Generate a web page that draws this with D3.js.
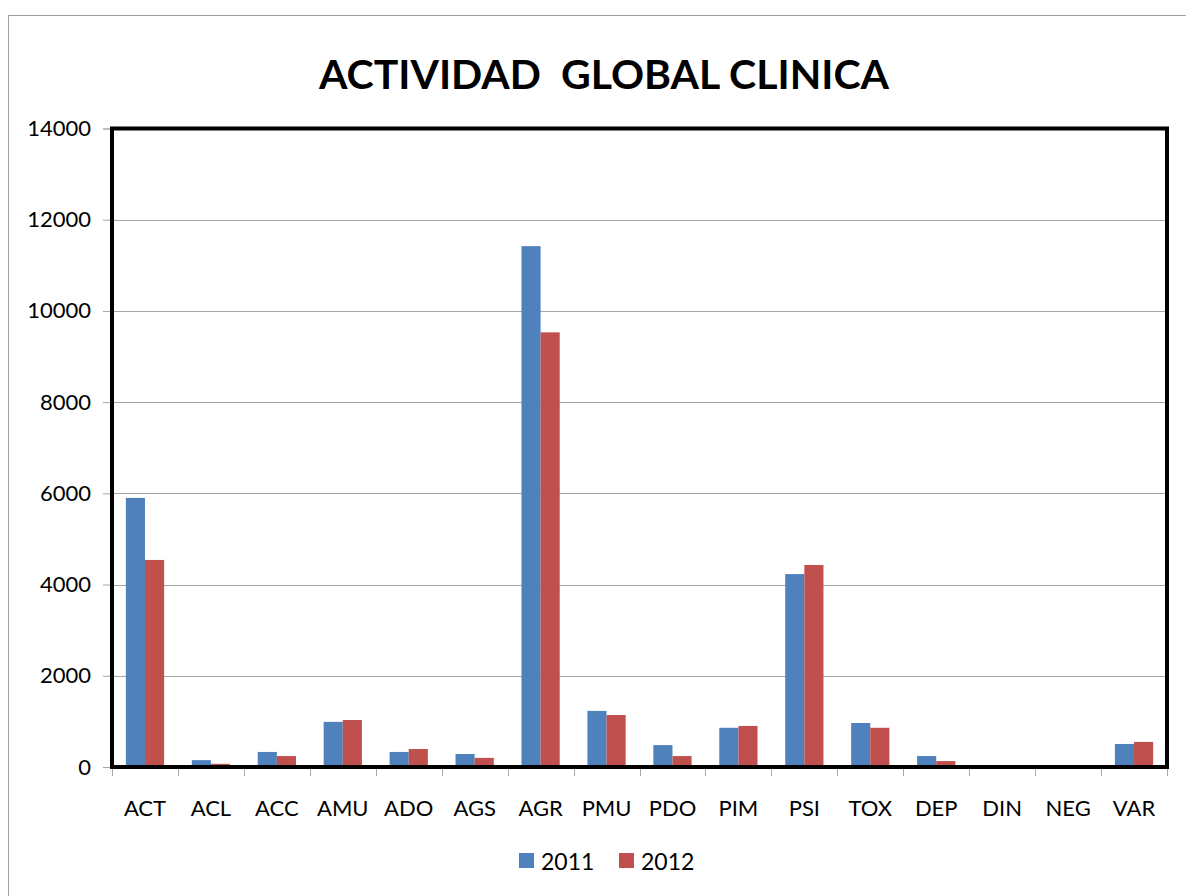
<!DOCTYPE html>
<html><head><meta charset="utf-8">
<script src="https://cdn.jsdelivr.net/npm/d3@7"></script>
<style>body{margin:0;background:#fff}svg{display:block}</style>
</head><body>
<svg id="c" width="1186" height="896"></svg>
<script>
const categories = ["ACT","ACL","ACC","AMU","ADO","AGS","AGR","PMU","PDO","PIM","PSI","TOX","DEP","DIN","NEG","VAR"];
const series2011 = [5900,150,330,990,330,285,11420,1230,480,860,4230,965,240,10,30,505];
const series2012 = [4540,70,240,1030,395,200,9530,1140,240,900,4430,860,130,5,30,550];
const seriesNames = ["2011","2012"];
const seriesColors = ["#4f81bd","#c0504d"];
const yTicks = [0,2000,4000,6000,8000,10000,12000,14000];

const svg = d3.select("#c");
const font = "Lato, 'Open Sans', sans-serif";
const L = 112, R = 1167, T = 128.5, B = 767;

svg.append("rect").attr("x",8.5).attr("y",15.5).attr("width",1200).attr("height",900)
  .attr("fill","none").attr("stroke","#a0a0a0").attr("stroke-width",1);

svg.append("text").attr("x",604).attr("y",89).attr("text-anchor","middle")
  .attr("font-family",font).attr("font-weight","bold").attr("font-size",41)
  .attr("fill","#000").attr("xml:space","preserve").text("ACTIVIDAD  GLOBAL CLINICA");

const x = d3.scaleBand().domain(categories).range([L,R]).paddingInner(0).paddingOuter(0);
const y = d3.scaleLinear().domain([0,14000]).range([B,T]);
const gap = 0.21;
const xs = d3.scaleBand().domain(seriesNames).range([x.bandwidth()*gap, x.bandwidth()*(1-gap)]);

// gridlines
svg.append("g").selectAll("line").data(yTicks.filter(d=>d>0&&d<14000)).join("line")
  .attr("x1",L).attr("x2",R).attr("y1",d=>Math.round(y(d))+0.5).attr("y2",d=>Math.round(y(d))+0.5)
  .attr("stroke","#a6a6a6").attr("stroke-width",1);

// y axis
const ya = svg.append("g").attr("transform",`translate(${L-1},0)`)
  .call(d3.axisLeft(y).tickValues(yTicks).tickSize(8).tickPadding(12).tickFormat(d3.format("d")));
ya.select(".domain").attr("stroke","#a6a6a6");
ya.selectAll(".tick line").attr("stroke","#a6a6a6");
ya.selectAll("text").attr("font-family",font).attr("font-size",22).attr("fill","#000");

// x axis
const xa = svg.append("g").attr("transform",`translate(0,${B+1})`)
  .call(d3.axisBottom(x).tickSize(0).tickPadding(32));
xa.select(".domain").remove();
xa.selectAll("text").attr("font-family",font).attr("font-size",22).attr("fill","#000");
svg.append("g").selectAll("line").data(categories.concat(["_end"])).join("line")
  .attr("x1",(d,i)=>Math.round(L+i*x.bandwidth())+0.5).attr("x2",(d,i)=>Math.round(L+i*x.bandwidth())+0.5)
  .attr("y1",B).attr("y2",B+9).attr("stroke","#a6a6a6");

// bars
const data = [series2011, series2012];
data.forEach((vals,si)=>{
  svg.append("g").selectAll("rect").data(vals).join("rect")
    .attr("x",(d,i)=>x(categories[i])+xs(seriesNames[si]))
    .attr("width",xs.bandwidth())
    .attr("y",d=>y(d)).attr("height",d=>B-y(d))
    .attr("fill",seriesColors[si]);
});

// frame
svg.append("rect").attr("x",L).attr("y",T).attr("width",R-L).attr("height",B-T)
  .attr("fill","none").attr("stroke","#000").attr("stroke-width",4);

// legend
const lg = svg.append("g");
const lx = [519, 619];
seriesNames.forEach((n,i)=>{
  lg.append("rect").attr("x",lx[i]).attr("y",853).attr("width",15).attr("height",15).attr("fill",seriesColors[i]);
  lg.append("text").attr("x",lx[i]+22).attr("y",870).attr("font-family",font).attr("font-size",23)
    .attr("fill","#000").text(n);
});
</script>
</body></html>
